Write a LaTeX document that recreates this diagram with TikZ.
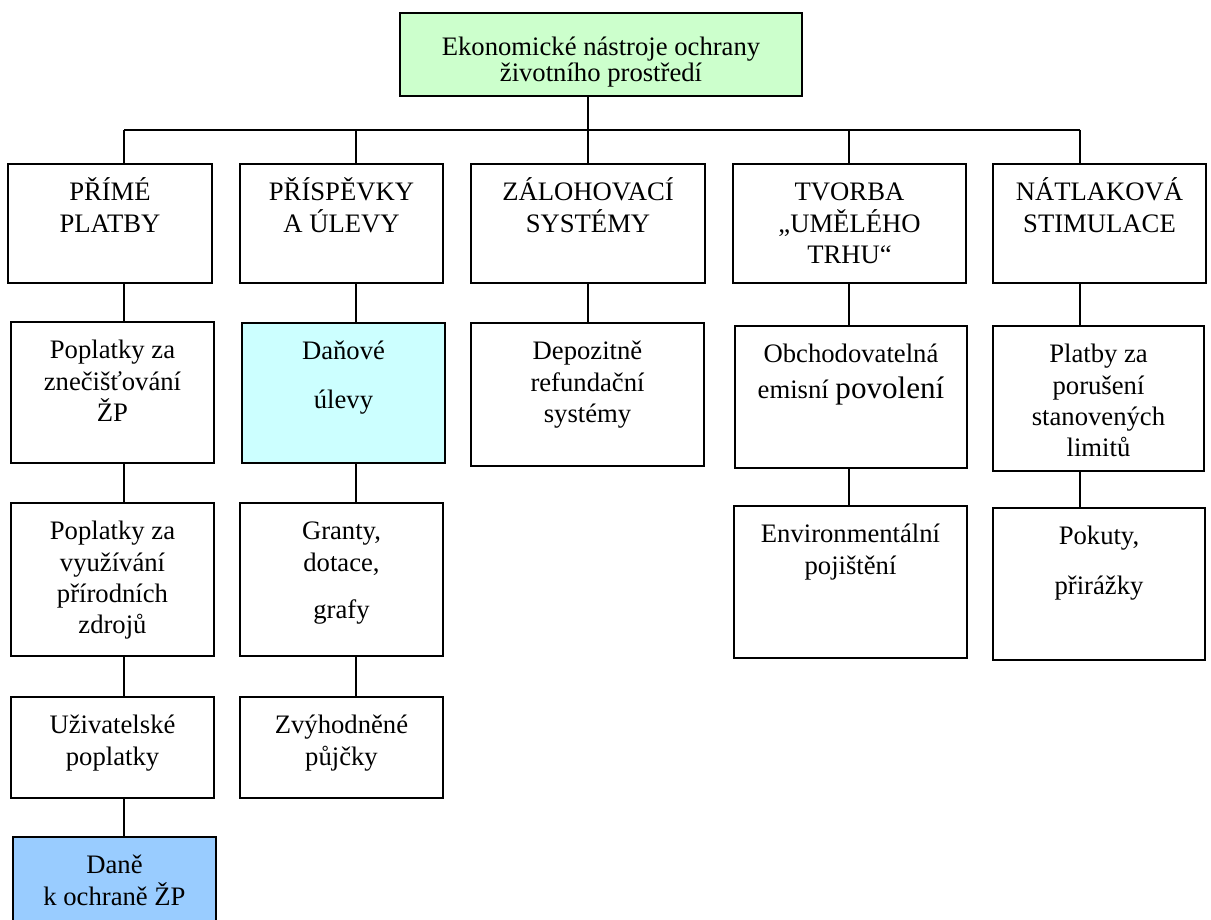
\documentclass[tikz,border=0pt]{standalone}
\usepackage{fontspec}
\setmainfont{Liberation Serif}
\definecolor{topgreen}{HTML}{CCFFCC}
\definecolor{lightcyan}{HTML}{CCFFFF}
\definecolor{skyblue}{HTML}{99CCFF}

\begin{document}
\begin{tikzpicture}[x=0.45pt,y=-0.45pt,
  box/.style={draw,line width=0.8pt,anchor=north,inner sep=0pt,outer sep=0pt,
    align=flush center,text height=16.6pt,font=\fontsize{12}{14}\selectfont},
  link/.style={line width=0.8pt}]
\useasboundingbox (0,0) rectangle (1211,920);
% top box
\node[box,fill=topgreen,text width=180.9pt,text height=19.3pt,text depth=18.05pt] (eko) at (601,13)
  {Ekonomické nástroje ochrany\\[-2.3pt]životního prostředí};
% first row
\node[box,text width=91.8pt,text depth=36.95pt] (prime) at (110,164) {PŘÍMÉ\\PLATBY};
\node[box,text width=91.35pt,text depth=36.95pt] (prisp) at (341.5,164) {PŘÍSPĚVKY\\A ÚLEVY};
\node[box,text width=105.3pt,text depth=36.95pt] (zaloh) at (588,164) {ZÁLOHOVACÍ\\SYSTÉMY};
\node[box,text width=104.85pt,text depth=36.95pt] (tvorba) at (849.5,164) {TVORBA\\„UMĚLÉHO\\TRHU“};
\node[box,text width=95.85pt,text depth=36.95pt] (natlak) at (1099.5,164) {NÁTLAKOVÁ\\STIMULACE};
% second row
\node[box,text width=91.35pt,text depth=46.85pt] (pzn) at (112.5,322) {Poplatky za\\znečišťování\\ŽP};
\node[box,fill=lightcyan,text width=91.35pt,text depth=46.4pt] (dan) at (343.5,323) {Daňové\\[8pt]úlevy};
\node[box,text width=104.85pt,text depth=47.75pt] (depo) at (587.5,323) {Depozitně\\refundační\\systémy};
\node[box,text width=104.4pt,text depth=47.3pt] (obch) at (851,326)
  {Obchodovatelná\\[1.8pt]emisní {\fontsize{14}{16}\selectfont povolení}};
\node[box,text width=94.95pt,text depth=48.65pt] (plat) at (1098.5,326) {Platby za\\porušení\\stanovených\\limitů};
% third row
\node[box,text width=91.35pt,text depth=52.25pt] (pvy) at (112.5,503) {Poplatky za\\využívání\\přírodních\\zdrojů};
\node[box,text width=91.35pt,text depth=52.25pt] (grant) at (341.5,503) {Granty,\\dotace,\\[7.5pt]grafy};
\node[box,text width=104.85pt,text depth=51.8pt] (envi) at (850.5,506) {Environmentální\\pojištění};
\node[box,text width=95.4pt,text depth=51.8pt] (pok) at (1099,508) {Pokuty,\\[8.5pt]přirážky};
% fourth row
\node[box,text width=91.35pt,text depth=28.85pt] (uziv) at (112.5,697) {Uživatelské\\poplatky};
\node[box,text width=91.35pt,text depth=28.85pt] (zvyh) at (341.5,697) {Zvýhodněné\\půjčky};
% fifth row
\node[box,fill=skyblue,text width=91.35pt,text depth=29.75pt] (dane) at (114.5,837) {Daně\\k ochraně ŽP};
% bus and connectors
\coordinate (b1) at (124,130);
\coordinate (b2) at (356,130);
\coordinate (b3) at (588,130);
\coordinate (b4) at (849,130);
\coordinate (b5) at (1080,130);
\draw[link] (b1) -- (b5);
\draw[link] (eko.south -| b3) -- (b3);
\foreach \b/\n in {b1/prime,b2/prisp,b3/zaloh,b4/tvorba,b5/natlak}
  \draw[link] (\b) -- (\b |- \n.north);
\foreach \b/\u/\d in {b1/prime/pzn,b1/pzn/pvy,b1/pvy/uziv,b1/uziv/dane,
    b2/prisp/dan,b2/dan/grant,b2/grant/zvyh,b3/zaloh/depo,
    b4/tvorba/obch,b4/obch/envi,b5/natlak/plat,b5/plat/pok}
  \draw[link] (\u.south -| \b) -- (\d.north -| \b);
\end{tikzpicture}
\end{document}
